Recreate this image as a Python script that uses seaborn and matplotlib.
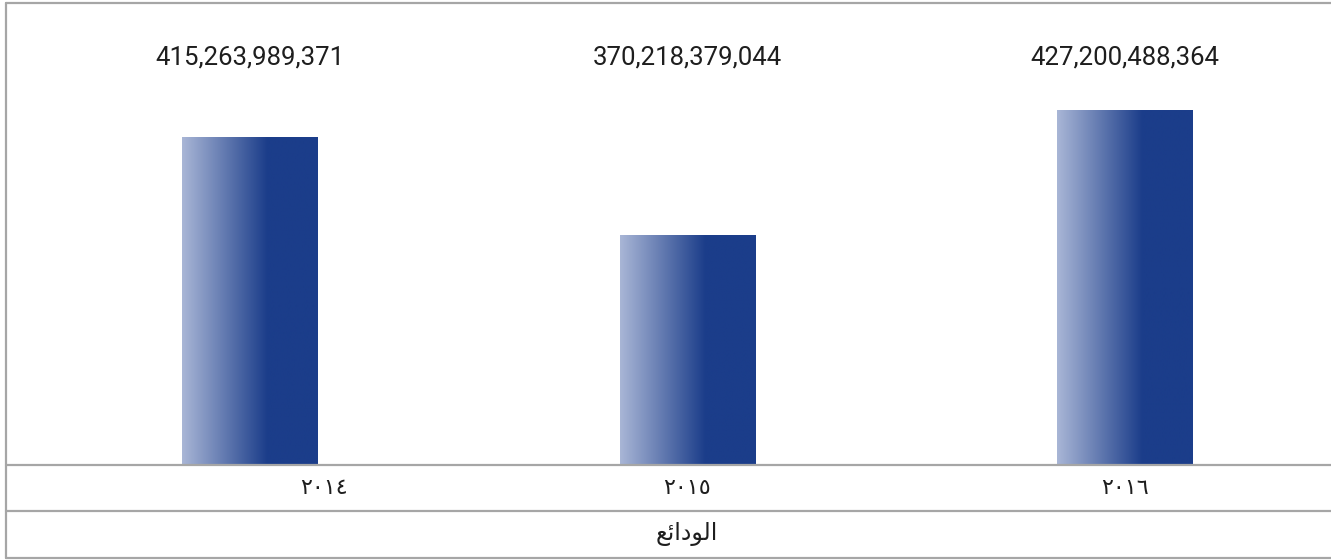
import numpy as np
import pandas as pd
import matplotlib
matplotlib.use("Agg")
import matplotlib.pyplot as plt
from matplotlib.lines import Line2D
import matplotlib.transforms as mtransforms
import seaborn as sns

# ---- data ----
years = ["٢٠١٤", "٢٠١٥", "٢٠١٦"]
deposits = [415263989371, 370218379044, 427200488364]
value_labels = ["415,263,989,371", "370,218,379,044", "427,200,488,364"]
row_label = "الودائع"

# ---- minimal Arabic shaping (matplotlib has no complex text layout) ----
FORMS = {  # isolated, final, initial, medial
    "\u0627": ("\uFE8D", "\uFE8E", None, None),
    "\u0644": ("\uFEDD", "\uFEDE", "\uFEDF", "\uFEE0"),
    "\u0648": ("\uFEED", "\uFEEE", None, None),
    "\u062F": ("\uFEA9", "\uFEAA", None, None),
    "\u0626": ("\uFE89", "\uFE8A", "\uFE8B", "\uFE8C"),
    "\u0639": ("\uFEC9", "\uFECA", "\uFECB", "\uFECC"),
}


def shape_arabic(s):
    out = []
    for i, ch in enumerate(s):
        if ch not in FORMS:
            out.append(ch)
            continue
        f = FORMS[ch]
        prev = s[i - 1] if i > 0 else None
        nxt = s[i + 1] if i < len(s) - 1 else None
        jp = prev in FORMS and FORMS[prev][2] is not None
        jn = nxt in FORMS and f[2] is not None
        if jp and jn:
            out.append(f[3])
        elif jp:
            out.append(f[1])
        elif jn:
            out.append(f[2])
        else:
            out.append(f[0])
    return "".join(reversed(out))


sns.set_theme(style="white")
plt.rcParams["font.family"] = ["Roboto", "DejaVu Sans"]

W, H = 1331, 560
fig = plt.figure(figsize=(W / 100, H / 100), dpi=100)
fig.patch.set_facecolor("white")

ax_left, ax_top, ax_bottom = 6, 3, 465
ax = fig.add_axes([ax_left / W, 1 - ax_bottom / H, 1 - ax_left / W, (ax_bottom - ax_top) / H])

df = pd.DataFrame({"year": years, "value": deposits})
sns.barplot(data=df, x="year", y="value", width=0.3086, color="#1b3d8a", ax=ax)

XLIM = (-0.5566, 2.472)
YLIM = (265.6e9, 476.5e9)
ax.set_xlim(*XLIM)
ax.set_ylim(*YLIM)
ax.set_axis_off()

# gradient fill for bars
light = np.array([0xa9, 0xb6, 0xd6]) / 255
dark = np.array([0x1b, 0x3d, 0x8a]) / 255
t = np.linspace(0, 1, 256)
k = np.clip(t / 0.63, 0, 1)[:, None]
grad = (light * (1 - k) + dark * k)[None, :, :]
for p in list(ax.patches):
    x0, w, h = p.get_x(), p.get_width(), p.get_height()
    p.set_facecolor("none")
    p.set_edgecolor("none")
    ax.imshow(grad, extent=[x0, x0 + w, YLIM[0], h], aspect="auto",
              interpolation="bilinear", zorder=2)
ax.set_xlim(*XLIM)
ax.set_ylim(*YLIM)

# value labels in a row above
trans_va = mtransforms.blended_transform_factory(ax.transData, ax.transAxes)
for i, lab in enumerate(value_labels):
    ax.text(i, 1 - (57 - ax_top) / (ax_bottom - ax_top), lab, transform=trans_va,
            ha="center", va="center", fontsize=18.5, color="#1e1e1e",
            family=["Roboto", "DejaVu Sans"])

# table rows below
trans_fx = mtransforms.blended_transform_factory(ax.transData, fig.transFigure)
year_offsets = [0.17, 0.0, 0.0]
for i, (yl, off) in enumerate(zip(years, year_offsets)):
    ax.text(i + off, 1 - 488 / H, yl, transform=trans_fx, ha="center", va="center",
            fontsize=16, color="#1e1e1e", family=["DejaVu Sans"], clip_on=False)
ax.text(1, 1 - 534 / H, shape_arabic(row_label), transform=trans_fx, ha="center",
        va="center", fontsize=17, color="#1e1e1e", family=["DejaVu Sans"], clip_on=False)

# frame / grid lines
lc = "#a6a6a6"
lw = 1.6
for ypx in [ax_top, ax_bottom, 511, 558]:
    fig.add_artist(Line2D([ax_left / W, 1], [1 - ypx / H, 1 - ypx / H], color=lc, lw=lw,
                          transform=fig.transFigure))
fig.add_artist(Line2D([ax_left / W, ax_left / W], [1 - ax_top / H, 1 - 558 / H], color=lc, lw=lw,
                      transform=fig.transFigure))

fig.savefig("out.png", dpi=100, facecolor="white")
